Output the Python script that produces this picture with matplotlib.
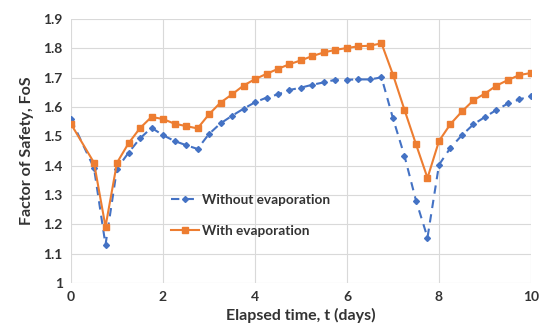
import matplotlib
matplotlib.use("Agg")
import matplotlib.pyplot as plt

t = [0, 0.5, 0.75, 1.0, 1.25, 1.5, 1.75, 2.0, 2.25, 2.5, 2.75, 3.0, 3.25, 3.5, 3.75,
     4.0, 4.25, 4.5, 4.75, 5.0, 5.25, 5.5, 5.75, 6.0, 6.25, 6.5, 6.75, 7.0, 7.25,
     7.5, 7.75, 8.0, 8.25, 8.5, 8.75, 9.0, 9.25, 9.5, 9.75, 10.0]

without_evap = [1.558, 1.392, 1.130, 1.390, 1.444, 1.493, 1.529, 1.504, 1.484, 1.470,
                1.457, 1.508, 1.544, 1.570, 1.594, 1.616, 1.632, 1.643, 1.658, 1.666,
                1.676, 1.684, 1.693, 1.693, 1.694, 1.694, 1.701, 1.561, 1.433, 1.281,
                1.155, 1.403, 1.461, 1.504, 1.541, 1.566, 1.590, 1.612, 1.626, 1.637]

with_evap = [1.542, 1.410, 1.192, 1.410, 1.476, 1.528, 1.566, 1.559, 1.543, 1.535,
             1.527, 1.575, 1.615, 1.643, 1.673, 1.695, 1.713, 1.730, 1.746, 1.759,
             1.774, 1.786, 1.795, 1.801, 1.807, 1.809, 1.817, 1.710, 1.590, 1.473,
             1.358, 1.484, 1.542, 1.585, 1.623, 1.646, 1.673, 1.692, 1.709, 1.716]

xticks = [0, 2, 4, 6, 8, 10]
yticks = [1, 1.1, 1.2, 1.3, 1.4, 1.5, 1.6, 1.7, 1.8, 1.9]
ytick_labels = ["1", "1.1", "1.2", "1.3", "1.4", "1.5", "1.6", "1.7", "1.8", "1.9"]

plt.rcParams['font.family'] = ['Lato', 'DejaVu Sans']

fig = plt.figure(figsize=(5.42, 3.27), dpi=100)
ax = fig.add_axes([0.131, 0.1346, 0.8487, 0.8073])

blue = "#4472C4"
orange = "#ED7D31"

ax.plot(t, without_evap, color=blue, linestyle=(0, (4, 3)), linewidth=1.5,
        marker="D", markersize=3, label="Without evaporation", zorder=3)
ax.plot(t, with_evap, color=orange, linestyle="-", linewidth=1.5,
        marker="s", markersize=4.5, label="With evaporation", zorder=4)

ax.set_xlim(0, 10)
ax.set_ylim(1, 1.9)
ax.set_xticks(xticks)
ax.set_xticklabels([str(x) for x in xticks])
ax.set_yticks(yticks)
ax.set_yticklabels(ytick_labels)
ax.grid(True, color="#d9d9d9", linewidth=0.8)
ax.set_axisbelow(True)
for s in ax.spines.values():
    s.set_visible(False)
ax.tick_params(length=0, labelsize=10, colors="#333333", pad=6)
for lab in ax.get_xticklabels() + ax.get_yticklabels():
    lab.set_fontweight("bold")

ax.set_xlabel("Elapsed time, t (days)", fontsize=11.5, fontweight="bold", color="#333333", labelpad=3)
ax.set_ylabel("Factor of Safety, FoS", fontsize=11.5, fontweight="bold", color="#333333", labelpad=7)

leg = ax.legend(loc="center left", bbox_to_anchor=(0.2167, 0.257), frameon=False,
                prop={"weight": "bold", "size": 9.8}, labelspacing=1.4,
                handlelength=2.1, handletextpad=0.2, borderaxespad=0, borderpad=0)
for txt in leg.get_texts():
    txt.set_color("#333333")

fig.savefig("out.png", dpi=100)
